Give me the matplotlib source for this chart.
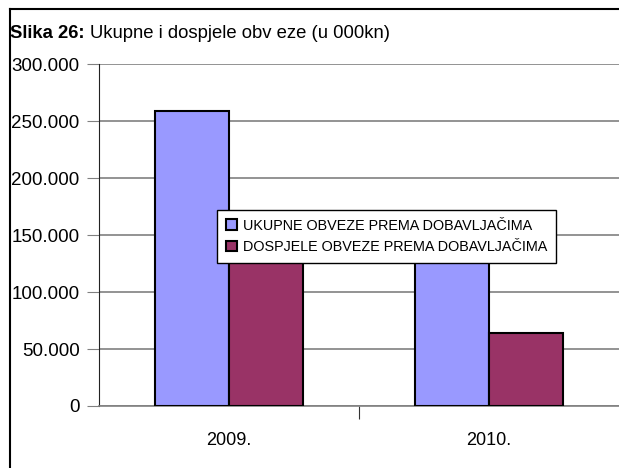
import matplotlib
matplotlib.use("Agg")
import matplotlib.pyplot as plt
from matplotlib.lines import Line2D
import numpy as np

categories = ["2009.", "2010."]
series_names = ["UKUPNE OBVEZE PREMA DOBAVLJAČIMA", "DOSPJELE OBVEZE PREMA DOBAVLJAČIMA"]
ukupne = [259000, 150000]
dospjele = [160000, 64000]
yticks = [0, 50000, 100000, 150000, 200000, 250000, 300000]
ytick_labels = ["0", "50.000", "100.000", "150.000", "200.000", "250.000", "300.000"]
colors = ["#9999FF", "#993366"]

FONT = ["Liberation Sans", "DejaVu Sans"]
plt.rcParams['font.family'] = FONT

W, H = 619, 468
fig = plt.figure(figsize=(W/100, H/100), dpi=100)
ax = fig.add_axes([99/W, 1-406/H, 1-99/W, (406-64)/H])

x = np.arange(len(categories))
bw = 0.285
ax.bar(x - bw/2, ukupne, bw, color=colors[0], edgecolor="black", linewidth=1.5, label=series_names[0], zorder=3)
ax.bar(x + bw/2, dospjele, bw, color=colors[1], edgecolor="black", linewidth=1.5, label=series_names[1], zorder=3)

ax.set_xlim(-0.5, 1.5)
ax.set_ylim(0, 300000)
ax.set_yticks(yticks)
ax.set_yticklabels(ytick_labels, fontsize=13.5)
ax.set_xticks([0.5])
ax.set_xticklabels([""])
ax.set_xticks(x, minor=True)
ax.set_xticklabels(categories, minor=True, fontsize=13)
ax.tick_params(axis='x', which='minor', length=0, pad=19)
ax.tick_params(axis='x', which='major', length=9, color="#333333", direction='out')
ax.tick_params(axis='y', length=9, color="#808080", direction='out', pad=5)
ax.yaxis.grid(True, color="#808080", linewidth=1.2, zorder=0)
ax.set_axisbelow(True)
for s in ["top", "right"]:
    ax.spines[s].set_visible(False)
ax.spines["left"].set_color("#222222")
ax.spines["bottom"].set_color("#808080")
ax.spines["bottom"].set_linewidth(1.2)

leg = fig.legend(loc="upper left", bbox_to_anchor=(217/W, 1-210/H), fontsize=10.4,
                 frameon=True, fancybox=False, edgecolor="black", framealpha=1,
                 handlelength=0.75, handleheight=0.75, handletextpad=0.45,
                 borderpad=0.6, labelspacing=0.5, borderaxespad=0)
leg.get_frame().set_linewidth(1.0)
leg.set_zorder(10)

t1 = fig.text(10/W, 1-38/H, "Slika 26:", fontsize=13.3, fontweight="bold", ha="left", va="baseline")
fig.canvas.draw()
bb = t1.get_window_extent()
fig.text((bb.x1 + 5)/W, 1-38/H, "Ukupne i dospjele obv eze (u 000kn)", fontsize=13.3, ha="left", va="baseline")

fig.add_artist(Line2D([9.5/W, 9.5/W], [0, 1-9/H], color="black", linewidth=1.5))
fig.add_artist(Line2D([9.5/W, 1], [1-9/H, 1-9/H], color="black", linewidth=1.5))

fig.savefig("out.png", dpi=100)
